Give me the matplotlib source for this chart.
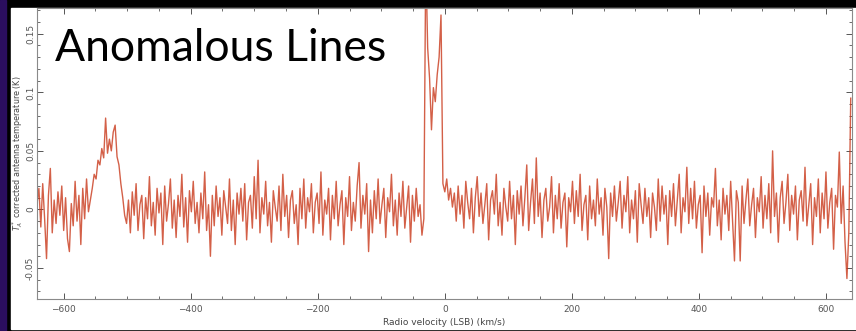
import matplotlib.pyplot as plt
import matplotlib.patches as mpatches
from matplotlib.ticker import MultipleLocator
import numpy as np

# channel spacing (km/s) and first channel velocity
v_start = -642
v_step = 3

# antenna temperature per channel, in mK
left_noise = [5, 18, -15, 22, -8, -42, 12, 35, -20, 8,
              -12, 15, -5, 20, -18, 10, -25, -36, 5, -14,
              24, -10, 12, -30, 18, -8, 26, -2]
bump = [8, 18, 30, 26, 42, 38, 52, 44, 78, 48,
        60, 50, 66, 72, 45, 38, 22, 10, -5]
mid_noise = [-12, 8, -20, 15, -5, 22, -18, 4, 12, -25,
             10, -8, 28, -14, 6, -22, 18, -3, 14, -30,
             20, -10, 5, 26, -16, 8, -24, 12, -6, 30,
             -15, 10, -28, 16, -2, 24, -12, 6, -20, 14,
             -8, 32, -18, 4, -40, 12, -14, 20, -6, 10,
             -22, 16, 2, -12, 26, -18, 8, -30, 14, -4,
             18, -10, 22, -26, 6, 12, -16, 28, -8, 42,
             -20, 10, -4, 24, -14, 6, -28, 16, 2, -10,
             20, -18, 30, -6, 12, -24, 8, 16, -12, 4,
             -30, 18, -8, 26, -16, 10, -2, 22, -20, 6,
             14, -12, 32, -22, 8, -4, 18, -26, 12, -8,
             24, -14, 4, 16, -30, 10, -6, 28, -18, 6,
             -10, 20, 40, -16, 12, -4, 22, -36, 8, -20,
             16, -8, 26, -12, 4, 18, -24, 10, -2, 30,
             -14, 8, -22, 14, -6, 24, -16, 2, 20, -28,
             12, -10, 18, -6, 4]
peak = [-22, -8, 215, 138, 112, 68, 104, 92, 115, 130, 166]
right_noise = [22, 15, 26, 8, 18, 2, 14, -10, 20, -4,
               12, -16, 24, 6, -8, 18, -20, 10, 28, -6,
               14, -12, 4, 22, -26, 8, 16, -4, 30, -14,
               6, -22, 18, 2, -10, 24, -8, 12, -30, 16,
               -4, 20, -14, 10, 38, -18, 6, 26, -12, 44,
               -6, 14, -24, 8, 18, -10, 2, 28, -20, 12,
               -8, 22, -16, 6, 14, -32, 10, -2, 24, -12,
               16, -6, 30, -18, 4, 12, -26, 20, -8, 8,
               -14, 26, -4, 10, -22, 18, 2, -42, 14, -6,
               20, -10, 6, 24, -16, 12, -2, 28, -20, 8,
               -8, 16, -28, 22, 4, -12, 18, -6, 10, -24,
               14, 2, -18, 26, -10, 20, -4, 12, -30, 16,
               -6, 22, -14, 8, 30, -20, 10, -2, 36, -12,
               18, -8, 24, -16, 4, 12, -37, 20, -6, 14,
               -22, 10, 2, 35, -14, 8, -26, 18, -4, 12,
               -18, 24, -10, -44, 16, 6, -44, 20, -12, 8,
               26, -14, 4, 18, -24, 10, -2, 28, -16, 12,
               -8, 22, -20, 50, -6, 14, -28, 10, 24, -12,
               6, 30, -18, 12, -4, 20, -26, 8, 16, -10,
               36, -14, 4, 22, -30, 10, -6, 26, -20, 14,
               -8, 32, -16, 6, 18, -34, 12, 2, 49, -12,
               20, -28, -59, -20, 95]

title_text = "Anomalous Lines"


def main():
    W, H = 856, 331
    fig = plt.figure(figsize=(W / 100, H / 100), dpi=100)
    fig.patch.set_facecolor('black')

    # slide background: purple strip on the left, white panel
    fig.patches.append(mpatches.Rectangle((0, 0), 6 / W, 1, transform=fig.transFigure,
                                          color='#2b0e5e', zorder=-5))
    fig.patches.append(mpatches.Rectangle((11 / W, 2 / H), (W - 11) / W, 321 / H,
                                          transform=fig.transFigure, color='white', zorder=-5))

    ax = fig.add_axes([37 / W, 32 / H, 815 / W, 291 / H])
    ax.set_zorder(1)
    ax.set_facecolor('white')

    temp = np.concatenate([left_noise, bump, mid_noise, peak, right_noise]) / 1000.0
    vel = v_start + v_step * np.arange(len(temp))

    ax.plot(vel, temp, color='#c9381a', lw=1.0, alpha=0.8)

    ax.set_xlim(-642, 641)
    ax.set_ylim(-0.0765, 0.172)
    ax.xaxis.set_major_locator(MultipleLocator(200))
    ax.xaxis.set_minor_locator(MultipleLocator(50))
    ax.yaxis.set_minor_locator(MultipleLocator(0.01))
    ax.set_yticks([-0.05, 0, 0.05, 0.1, 0.15])
    ax.set_yticklabels(['-0.05', '0', '0.05', '0.1', '0.15'], rotation=90, va='center')

    for s in ax.spines.values():
        s.set_color('#8a8a8a')
        s.set_linewidth(0.8)
    ax.tick_params(which='both', direction='in', top=True, right=True,
                   colors='#555555', labelsize=6.5)
    ax.tick_params(axis='x', pad=4)
    ax.tick_params(axis='y', pad=1.5)
    ax.tick_params(which='major', length=4, width=0.7)
    ax.tick_params(which='minor', length=2.5, width=0.6)

    ax.set_xlabel("Radio velocity (LSB) (km/s)", fontsize=6.5, color='#444444', labelpad=3)
    ax.set_ylabel(r"$T_A^*$ corrected antenna temperature (K)", fontsize=5.8,
                  color='#444444', va='center')
    ax.yaxis.set_label_coords(-19 / 815, 0.5)

    fig.text(55 / W, 1 - 61 / H, title_text, fontsize=32, family='Lato',
             color='black', ha='left', va='baseline', zorder=5)

    plt.savefig('out.png', dpi=100, facecolor=fig.get_facecolor())


if __name__ == '__main__':
    main()
